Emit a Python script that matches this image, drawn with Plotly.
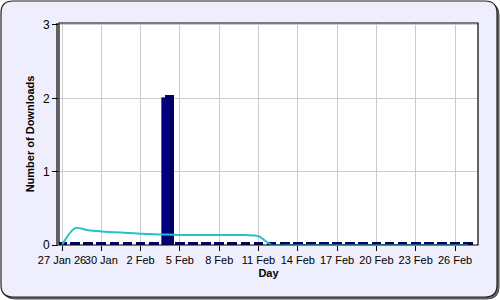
import plotly.graph_objects as go

# ---- data ----
days = ["27 Jan", "28 Jan", "29 Jan", "30 Jan", "31 Jan", "1 Feb", "2 Feb", "3 Feb",
        "4 Feb", "5 Feb", "6 Feb", "7 Feb", "8 Feb", "9 Feb", "10 Feb", "11 Feb",
        "12 Feb", "13 Feb", "14 Feb", "15 Feb", "16 Feb", "17 Feb", "18 Feb", "19 Feb",
        "20 Feb", "21 Feb", "22 Feb", "23 Feb", "24 Feb", "25 Feb", "26 Feb", "27 Feb"]
downloads = [0, 0, 0, 0, 0, 0, 0, 0, 2, 0, 0, 0, 0, 0, 0, 0,
             0, 0, 0, 0, 0, 0, 0, 0, 0, 0, 0, 0, 0, 0, 0, 0]
trend = [0.0, 0.23, 0.2, 0.185, 0.175, 0.165, 0.155, 0.148, 0.142, 0.138, 0.136, 0.135,
         0.135, 0.135, 0.135, 0.12, 0.0, 0.0, 0.0, 0.0, 0.0, 0.0, 0.0, 0.0,
         0.0, 0.0, 0.0, 0.0, 0.0, 0.0, 0.0, 0.0]
tick_labels = ["27 Jan 26", "30 Jan", "2 Feb", "5 Feb", "8 Feb", "11 Feb",
               "14 Feb", "17 Feb", "20 Feb", "23 Feb", "26 Feb"]

idx = list(range(len(days)))
tick_idx = idx[::3][:len(tick_labels)]

L, R, T, B = 59, 22, 23, 55
W, H = 500, 300
pw, ph = W - L - R, H - T - B
px_day = 13.1
xr = [-3 / px_day, (pw - 3) / px_day]
yr = [0, 3.027]
px_unit = ph / (yr[1] - yr[0])

fig = go.Figure()

# 3D depth (side/top) for bars
depth_dx = 3 / px_day
depth_dy = 3 / px_unit
fig.add_trace(go.Bar(x=[i + depth_dx for i in idx],
                     y=[v + depth_dy if v > 0 else 0 for v in downloads],
                     width=0.69, marker=dict(color="#000066", line=dict(width=0)),
                     hoverinfo="skip", showlegend=False))
# floor strip (zero bars seen from above)
fig.add_trace(go.Bar(x=idx, y=[0.045] * len(idx), width=0.74,
                     marker=dict(color="#000070", line=dict(width=0)),
                     hoverinfo="skip", showlegend=False))
# main bars
fig.add_trace(go.Bar(x=idx, y=downloads, width=0.69,
                     marker=dict(color="#000080", line=dict(color="#000033", width=0.6)),
                     name="Downloads", showlegend=False))
# trend line
fig.add_trace(go.Scatter(x=idx, y=trend, mode="lines",
                         line=dict(color="#22C4C4", width=2, shape="spline", smoothing=0.8),
                         hoverinfo="skip", showlegend=False))

# rounded frame around whole chart
x0 = (1 - L) / pw
x1 = (W - 3 - L) / pw
y1 = (H - B - 1) / ph
y0 = (H - B - (H - 3)) / ph
rx, ry = 12 / pw, 12 / ph


def rpath(ox, oy):
    a0, a1, b0, b1 = x0 + ox, x1 + ox, y0 + oy, y1 + oy
    return (f"M {a0+rx},{b1} L {a1-rx},{b1} Q {a1},{b1} {a1},{b1-ry} "
            f"L {a1},{b0+ry} Q {a1},{b0} {a1-rx},{b0} L {a0+rx},{b0} "
            f"Q {a0},{b0} {a0},{b0+ry} L {a0},{b1-ry} Q {a0},{b1} {a0+rx},{b1} Z")


shapes = [
    dict(type="path", xref="paper", yref="paper", path=rpath(2 / pw, -2 / ph),
         fillcolor="#666666", line=dict(color="#555555", width=1), layer="below"),
    dict(type="path", xref="paper", yref="paper", path=rpath(0, 0),
         fillcolor="#EEEEFC", line=dict(color="#222222", width=1.2), layer="below"),
    dict(type="rect", xref="paper", yref="paper", x0=0, x1=1, y0=0, y1=1,
         fillcolor="#FFFFFF", line=dict(width=0), layer="below"),
    # plot border
    dict(type="rect", xref="paper", yref="paper", x0=0, x1=1, y0=0, y1=1,
         fillcolor="rgba(0,0,0,0)", line=dict(color="#000000", width=1.2), layer="above"),
    # double left wall line
    dict(type="line", xref="paper", yref="paper", x0=-2 / pw, x1=-2 / pw, y0=0, y1=1,
         line=dict(color="#000000", width=1.2)),
]

fig.update_layout(
    width=W, height=H,
    margin=dict(l=L, r=R, t=T, b=B),
    paper_bgcolor="rgba(0,0,0,0)",
    plot_bgcolor="rgba(0,0,0,0)",
    barmode="overlay",
    bargap=0,
    shapes=shapes,
    font=dict(family="Liberation Sans", size=11, color="#000000"),
    xaxis=dict(range=xr, tickmode="array", tickvals=tick_idx, ticktext=tick_labels,
               tickangle=0, automargin=False,
               showgrid=True, gridcolor="#CCCCCC", gridwidth=1, ticks="outside",
               ticklen=5, tickcolor="#000000", zeroline=False, showline=False,
               tickfont=dict(size=11),
               title=dict(text="<b>Day</b>", font=dict(size=11), standoff=4)),
    yaxis=dict(range=yr, tickvals=[0, 1, 2, 3], showgrid=True, gridcolor="#CCCCCC",
               automargin=False,
               gridwidth=1, ticks="outside", ticklen=6, tickcolor="#000000",
               zeroline=False, showline=False, tickfont=dict(size=12),
               title=dict(text="<b>Number of Downloads</b>", font=dict(size=11), standoff=6)),
)

fig.write_html("out.html")
